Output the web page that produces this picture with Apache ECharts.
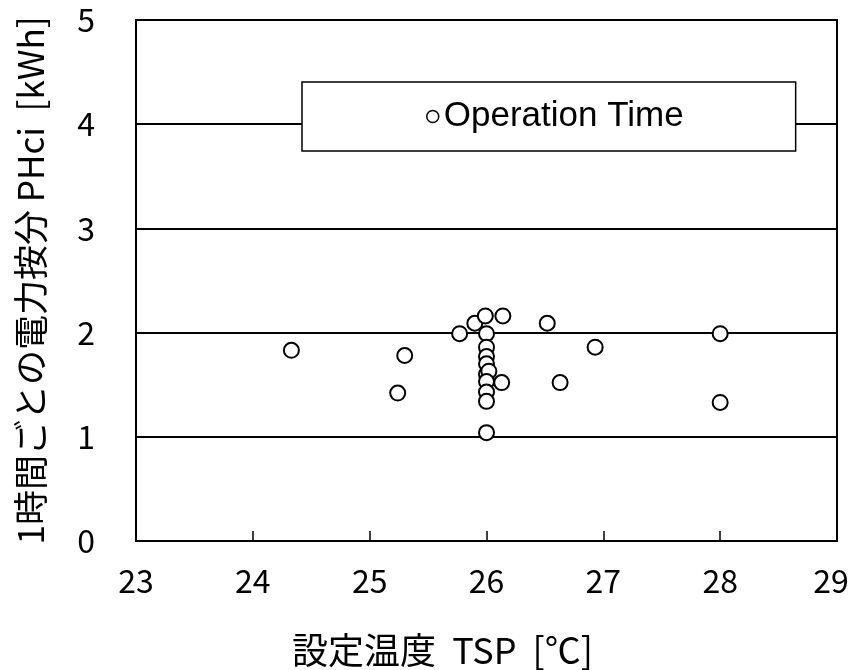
<!DOCTYPE html>
<html>
<head>
<meta charset="utf-8">
<script src="https://cdn.jsdelivr.net/npm/echarts@6/dist/echarts.min.js"></script>
<style>
  html, body { margin: 0; padding: 0; background: #fff; }
  #chart { width: 850px; height: 670px; }
</style>
</head>
<body>
<div id="chart"></div>
<script>
// Set-point temperature TSP [°C] for each operating hour
const tspValues = [
  24.33, 25.30, 25.24, 25.77, 25.90, 25.99, 26.14,
  26.00, 26.00, 26.00, 26.00, 26.00, 26.02, 26.00, 26.00, 26.00, 26.00,
  26.13, 26.52, 26.93, 26.63, 28.00, 28.00
];
// Hourly apportioned electric power PHci [kWh]
const phciValues = [
  1.83, 1.78, 1.42, 1.99, 2.09, 2.16, 2.16,
  1.99, 1.86, 1.77, 1.70, 1.60, 1.63, 1.53, 1.43, 1.34, 1.04,
  1.52, 2.09, 1.86, 1.52, 1.99, 1.33
];
const xTicks = [23, 24, 25, 26, 27, 28, 29];
const yTicks = [0, 1, 2, 3, 4, 5];
const seriesName = 'Operation Time';

const points = tspValues.map((x, i) => [x, phciValues[i]]);

const numFont = '"Noto Sans CJK JP", sans-serif';
const xMax = xTicks[xTicks.length - 1];

const chart = echarts.init(document.getElementById('chart'), null, { renderer: 'canvas' });
chart.setOption({
  animation: false,
  backgroundColor: '#ffffff',
  grid: {
    left: 136, top: 20, right: 13, bottom: 129,
    containLabel: false,
    outerBoundsMode: 'none',
    show: true, borderColor: '#000', borderWidth: 2, backgroundColor: 'transparent'
  },
  legend: {
    data: [{ name: seriesName, icon: 'circle' }],
    left: 302, top: 82,
    padding: [17, 112, 17, 124],
    itemWidth: 12, itemHeight: 12,
    backgroundColor: '#fff',
    borderColor: '#000', borderWidth: 1.5,
    textStyle: { fontFamily: '"Liberation Sans", Arial, sans-serif', fontSize: 35, color: '#000', padding: [3, 0, 0, 0] },
    itemStyle: { color: '#fff', borderColor: '#000', borderWidth: 1.5 }
  },
  xAxis: {
    type: 'value',
    min: xTicks[0], max: xMax, interval: 1,
    name: '設定温度  TSP  [℃]',
    nameLocation: 'middle', nameGap: 91,
    nameTextStyle: { fontFamily: numFont, fontSize: 36, color: '#000', padding: [0, 88, 0, 0] },
    axisLine: { show: true, lineStyle: { color: '#000', width: 2 } },
    axisTick: { show: true, inside: true, length: 10, lineStyle: { color: '#000', width: 1.5 } },
    axisLabel: {
      margin: 24, fontFamily: numFont, fontSize: 32, color: '#000',
      // keep the last label inside the canvas edge
      formatter: v => (v === xMax ? '{last|' + v + '}' : String(v)),
      rich: { last: { fontFamily: numFont, fontSize: 32, color: '#000', padding: [0, 12, 0, 0] } }
    },
    splitLine: { show: false }
  },
  yAxis: {
    type: 'value',
    min: yTicks[0], max: yTicks[yTicks.length - 1], interval: 1,
    name: '1時間ごとの電力按分 PHci  [kWh]',
    nameLocation: 'middle', nameGap: 88,
    nameTextStyle: { fontFamily: numFont, fontSize: 35, color: '#000' },
    axisLine: { show: true, lineStyle: { color: '#000', width: 2 } },
    axisTick: { show: false },
    axisLabel: { margin: 41, fontFamily: numFont, fontSize: 32, color: '#000' },
    splitLine: { show: true, lineStyle: { color: '#000', width: 2 } }
  },
  series: [{
    name: seriesName,
    type: 'scatter',
    data: points,
    symbol: 'circle',
    symbolSize: 15,
    itemStyle: { color: '#fff', borderColor: '#000', borderWidth: 2, opacity: 1 },
    z: 5
  }]
});
</script>
</body>
</html>
